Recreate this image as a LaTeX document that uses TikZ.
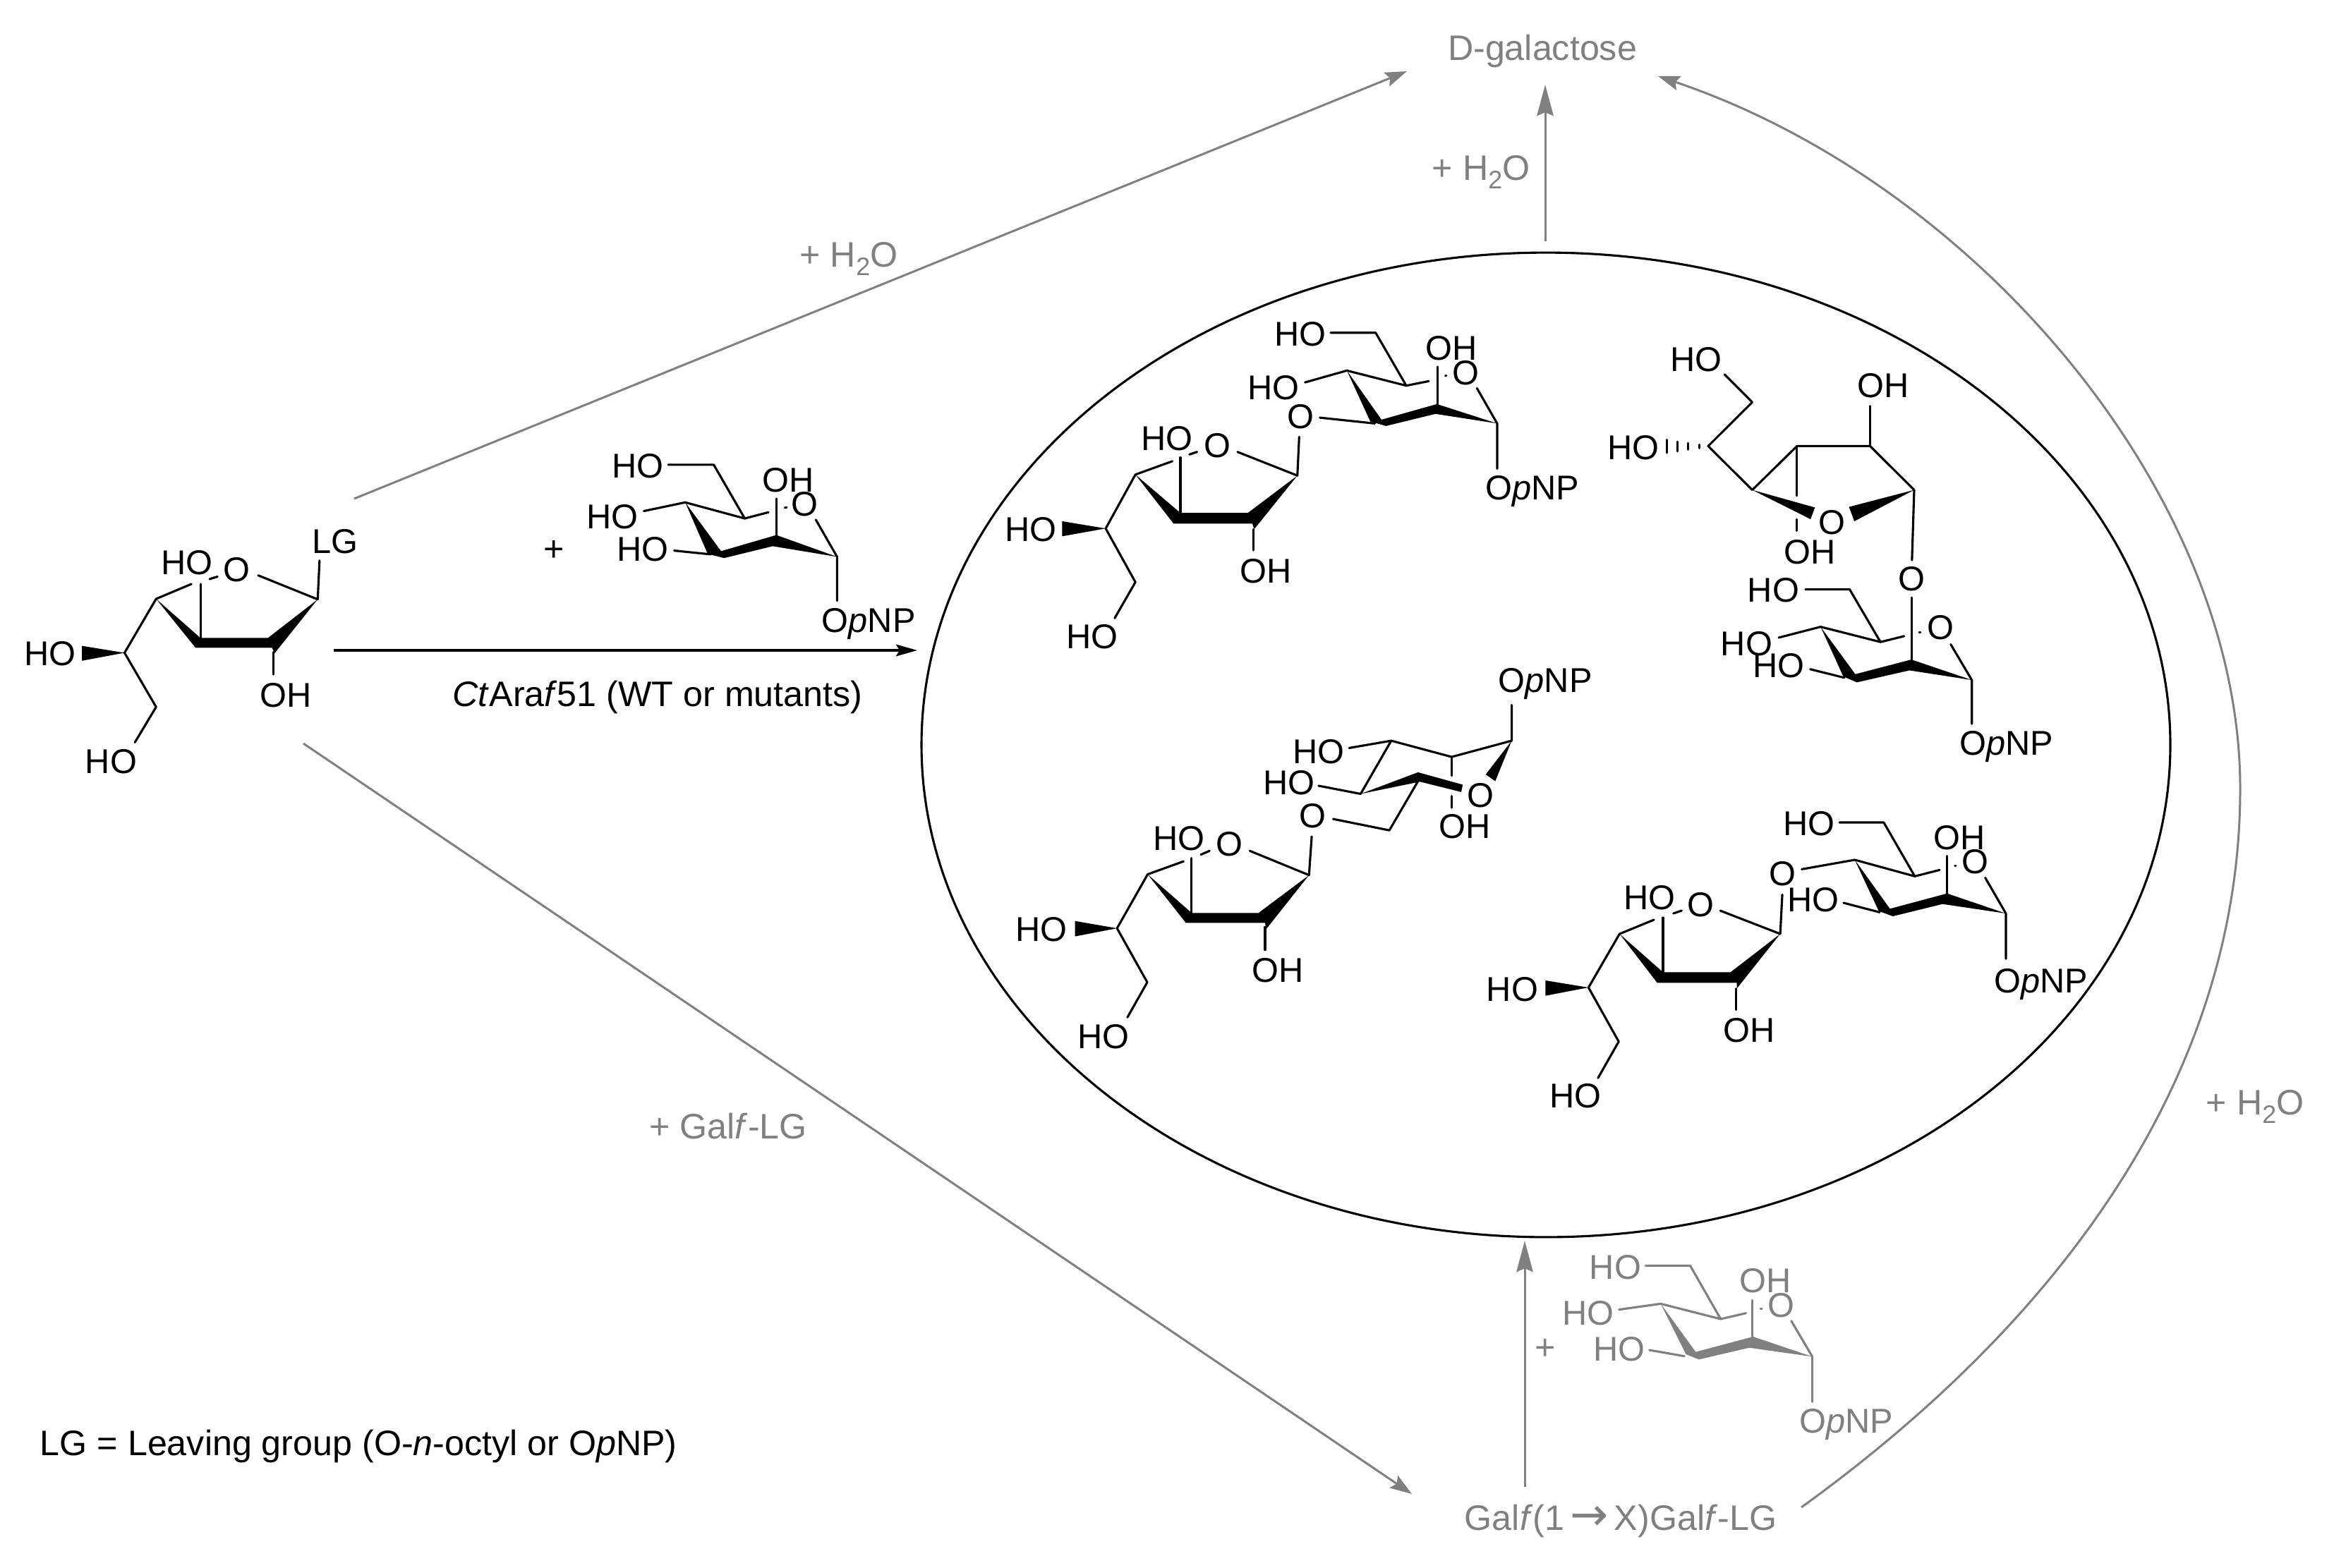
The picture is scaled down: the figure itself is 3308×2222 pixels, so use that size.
\documentclass[tikz,border=0pt]{standalone}
\usepackage{fontspec}
\setmainfont{Liberation Sans}
\newfontfamily\arrowfont{DejaVu Sans}
\usetikzlibrary{arrows.meta,shapes.geometric}
\definecolor{greyc}{HTML}{808080}
\newcommand{\HtwoO}{+ H\raisebox{-0.24em}{\fontsize{8.6}{9}\selectfont 2}O}
\newcommand{\lb}[3]{\node[lab] (#1) at (#2) {#3};}
\tikzset{
  lab/.style={inner sep=0pt,outer sep=0pt,anchor=center,text height=8.4pt,text depth=0pt,font=\fontsize{11.7}{13}\selectfont},
  schemetext/.style={lab,text height=8.6pt,font=\fontsize{12.05}{14}\selectfont},
  bond/.style={line width=0.75pt,line join=round,line cap=round},
  greyarrow/.style={draw=greyc,line width=0.72pt,-{Stealth[length=7.4pt,width=5pt,inset=1.2pt]}},
  greybig/.style={draw=greyc,line width=0.72pt,-{Stealth[length=10.6pt,width=5.6pt,inset=1.2pt]}},
  blackarrow/.style={draw=black,line width=0.75pt,-{Stealth[length=7.2pt,width=4pt,inset=1.2pt]}},
  greytext/.style={schemetext,text=greyc},
}
\begin{document}
\begin{tikzpicture}[x=0.24pt,y=-0.24pt]
\useasboundingbox (0,0) rectangle (3308,2222);

% vesicle
\node[ellipse,draw=black,line width=0.75pt,inner sep=0pt,minimum width=424.8pt,minimum height=335pt] (pool) at (2191,1056) {};

% free ends of the connectors
\coordinate (donorUp) at (502,707);
\coordinate (donorRight) at (473,922);
\coordinate (donorDown) at (430,1054);
\coordinate (poolIn) at (1300,922);
\coordinate (galIn1) at (1994,101);
\coordinate (galIn2) at (2190,120);
\coordinate (galIn3) at (2350,108);
\coordinate (poolOut) at (2190,342);
\coordinate (dimerIn) at (2001,2118);
\coordinate (dimerUp) at (2161,2108);
\coordinate (poolIn2) at (2161,1759);
\coordinate (dimerOut) at (2553,2137);
\coordinate (archA) at (2950,1850);
\coordinate (archB) at (3175,1500);
\coordinate (archC) at (3175,1118);
\coordinate (archD) at (3175,700);
\coordinate (archE) at (2800,260);

% connectors
\draw[greyarrow] (donorUp) -- (galIn1);
\draw[greybig] (poolOut) -- (galIn2);
\draw[greyarrow] (donorDown) -- (dimerIn);
\draw[greybig] (dimerUp) -- (poolIn2);
\draw[greyarrow] (dimerOut) .. controls (archA) and (archB) .. (archC) .. controls (archD) and (archE) .. (galIn3);
\draw[blackarrow] (donorRight) -- (poolIn);

% texts of the scheme
\node[greytext] (galactose) at (2186,68) {D-galactose};
\node[greytext] (waterA) at (1203,361) {\HtwoO};
\node[greytext] (waterB) at (2099,238) {\HtwoO};
\node[greytext] (waterC) at (3196,1563) {\HtwoO};
\node[greytext] (galfLG) at (1032,1597) {+ Gal\textit{f}-LG};
\node[greytext] (dimer) at (2297,2152) {Gal\textit{f}(1\,{\arrowfont\fontsize{15.5}{15}\selectfont →}\,X)Gal\textit{f}-LG};
\node[greytext] (plusG) at (2190,1910) {+};
\node[schemetext] (enzyme) at (932,984) {\textit{Ct}Ara\textit{f}51 (WT or mutants)};
\node[schemetext,anchor=west] (legend) at (57,2046) {LG = Leaving group (O-\textit{n}-octyl or O\textit{p}NP)};

% donor and acceptor on the left
\begin{scope}[shift={(0,600)},x=0.20663pt,y=-0.08418pt]
 \lb{aHOa}{308,563}{HO}\lb{aO}{390,590}{O}\lb{aLG}{552,475}{LG}\lb{aOH}{470,1097}{OH}\lb{aHOb}{82,930}{HO}\lb{aHOc}{183,1365}{HO}
 \draw[bond] (315,650)--(257,710)--(205,928)--(257,1147)--(222,1290);
 \draw[bond] (345,630)--(358,620);
 \draw[bond] (330,650)--(330,868);
 \draw[bond] (425,615)--(523,712)--(526,555);
 \draw[bond] (450,925)--(450,1015);
 \fill (257,710)--(330,868)--(441,868)--(523,712)--(452,930)--(448,908)--(322,908)--cycle;
 \fill (205,928)--(135,900)--(135,960)--cycle;
 % acceptor
 \node[schemetext] (bPlus) at (912,505) {+};
 \lb{bHOa}{1050,170}{HO}\lb{bHOb}{1008,375}{HO}\lb{bHOc}{1058,507}{HO}\lb{bOH}{1298,228}{OH}\lb{bO}{1325,325}{O}\lb{bNP}{1430,795}{O\textit{p}NP}
 \draw[bond] (1100,168)--(1175,168)--(1226,385)--(1128,320)--(1060,355);
 \draw[bond] (1226,385)--(1265,360);
 \draw[bond] (1292,342)--(1295,340);
 \draw[bond] (1278,305)--(1278,455);
 \draw[bond] (1343,390)--(1378,540)--(1378,718);
 \draw[bond] (1110,515)--(1170,530);
 \fill (1128,320)--(1187,517)--(1278,452)--(1378,540)--(1272,497)--(1192,545)--(1165,528)--cycle;
\end{scope}

% top left disaccharide
\begin{scope}[shift={(1400,420)},x=0.15306pt,y=-0.08571pt]
 \lb{cHOa}{398,563}{HO}\lb{cO}{510,590}{O}\lb{cGly}{695,475}{O}\lb{cOH}{618,1088}{OH}\lb{cHOb}{95,925}{HO}\lb{cHOc}{232,1350}{HO}
 \draw[bond] (410,655)--(328,708)--(262,922)--(328,1135)--(282,1278);
 \draw[bond] (448,628)--(465,618);
 \draw[bond] (428,640)--(428,860);
 \draw[bond] (555,618)--(688,712)--(692,558);
 \draw[bond] (738,482)--(860,505);
 \draw[bond] (590,925)--(590,1008);
 \fill (328,708)--(428,860)--(578,860)--(688,712)--(592,925)--(588,903)--(413,903)--cycle;
 \fill (262,922)--(165,893)--(165,953)--cycle;
 \lb{cHOd}{695,148}{HO}\lb{cHOe}{635,362}{HO}\lb{cOHb}{1030,205}{OH}\lb{cOb}{1063,302}{O}\lb{cNP}{1210,760}{O\textit{p}NP}
 \draw[bond] (762,145)--(862,145)--(930,355)--(798,295)--(705,342);
 \draw[bond] (930,355)--(980,337);
 \draw[bond] (1017,316)--(1019,315);
 \draw[bond] (1000,280)--(1000,430);
 \draw[bond] (1087,365)--(1132,505)--(1132,685);
 \fill (798,295)--(875,490)--(998,428)--(1132,505)--(995,467)--(885,515)--(850,497)--cycle;
\end{scope}

% top right disaccharide
\begin{scope}[shift={(2250,450)},x=0.10714pt,y=-0.0995pt]
 \lb{dHOa}{345,143}{HO}\lb{dHOb}{145,443}{HO}\lb{dOH}{938,232}{OH}\lb{dOHb}{705,800}{OH}\lb{dO}{775,700}{O}\lb{dGly}{1030,893}{O}
 \draw[bond] (435,195)--(523,290)--(383,440)--(523,590)--(665,440)--(897,440)--(1037,590)--(1030,830);
 \draw[bond] (897,440)--(897,303);
 \draw[bond] (665,440)--(665,610);
 \draw[bond] (665,690)--(665,730);
 \draw[bond] (1030,958)--(1030,1170);
 \draw[bond] (355,435)--(355,447);
 \draw[bond] (320,430)--(320,452);
 \draw[bond] (285,425)--(285,458);
 \draw[bond] (252,418)--(252,463);
 \fill (523,590)--(722,650)--(708,690)--cycle;
 \fill (1037,590)--(830,648)--(847,697)--cycle;
 \lb{dHOc}{590,930}{HO}\lb{dHOd}{505,1115}{HO}\lb{dHOe}{607,1190}{HO}\lb{dOc}{1120,1060}{O}\lb{dNP}{1330,1455}{O\textit{p}NP}
 \draw[bond] (692,930)--(832,930)--(930,1110)--(740,1058)--(607,1095);
 \draw[bond] (930,1110)--(1005,1090);
 \draw[bond] (1053,1077)--(1057,1077);
 \draw[bond] (1153,1118)--(1220,1240)--(1220,1390);
 \draw[bond] (707,1203)--(815,1232);
 \fill (740,1058)--(850,1220)--(1028,1170)--(1220,1240)--(1022,1207)--(855,1248)--(812,1228)--cycle;
\end{scope}

% central disaccharide
\begin{scope}[shift={(1400,920)},x=0.13008pt,y=-0.09185pt]
 \lb{eHOa}{500,700}{HO}\lb{eO}{632,722}{O}\lb{eGly}{850,617}{O}\lb{eOH}{758,1190}{OH}\lb{eHOb}{140,1037}{HO}\lb{eHOc}{302,1435}{HO}
 \draw[bond] (512,787)--(418,835)--(338,1035)--(417,1235)--(365,1365);
 \draw[bond] (557,762)--(580,748);
 \draw[bond] (533,775)--(533,978);
 \draw[bond] (685,748)--(840,838)--(847,695);
 \draw[bond] (903,630)--(1050,672)--(1125,490);
 \draw[bond] (725,1030)--(725,1115);
 \fill (418,835)--(533,978)--(708,978)--(840,838)--(728,1038)--(725,1015)--(518,1015)--cycle;
 \fill (338,1035)--(228,1008)--(228,1065)--cycle;
 \lb{eHOd}{865,380}{HO}\lb{eHOe}{787,495}{HO}\lb{eNP}{1458,115}{O\textit{p}NP}\lb{eOb}{1288,540}{O}\lb{eOHb}{1247,655}{OH}
 \draw[bond] (945,367)--(1055,340)--(975,537)--(865,507);
 \draw[bond] (1055,340)--(1213,400)--(1370,340)--(1370,208);
 \draw[bond] (1213,400)--(1213,470);
 \draw[bond] (1213,545)--(1213,588);
 \fill (975,537)--(1125,457)--(1242,503)--(1238,530)--(1130,492)--cycle;
 \fill (1370,340)--(1302,465)--(1327,490)--cycle;
\end{scope}

% lower right disaccharide
\begin{scope}[shift={(2080,1120)},x=0.14085pt,y=-0.08pt]
 \lb{fHOa}{440,455}{HO}\lb{fO}{563,485}{O}\lb{fGly}{760,353}{O}\lb{fOH}{680,1020}{OH}\lb{fHOb}{108,845}{HO}\lb{fHOc}{260,1300}{HO}
 \draw[bond] (450,552)--(367,612)--(292,840)--(365,1070)--(315,1225);
 \draw[bond] (497,525)--(517,513);
 \draw[bond] (472,543)--(472,775);
 \draw[bond] (610,513)--(755,612)--(760,445);
 \draw[bond] (807,337)--(935,297);
 \draw[bond] (648,845)--(648,935);
 \fill (367,612)--(472,775)--(635,775)--(755,612)--(650,845)--(650,820)--(458,820)--cycle;
 \fill (292,840)--(188,810)--(188,875)--cycle;
 \lb{fHOd}{825,140}{HO}\lb{fHOe}{835,465}{HO}\lb{fOHb}{1188,200}{OH}\lb{fOb}{1225,303}{O}\lb{fNP}{1385,810}{O\textit{p}NP}
 \draw[bond] (898,138)--(1005,138)--(1080,367)--(935,297);
 \draw[bond] (1080,367)--(1140,340);
 \draw[bond] (1177,322)--(1179,322);
 \draw[bond] (1158,280)--(1158,440);
 \draw[bond] (1250,373)--(1300,525)--(1300,718);
 \draw[bond] (908,480)--(995,520);
 \fill (935,297)--(1020,505)--(1158,440)--(1300,525)--(1147,485)--(1027,537)--(993,515)--cycle;
\end{scope}

% grey acceptor
\begin{scope}[shift={(2020,1740)},x=0.11019pt,y=-0.08pt,color=greyc]
 \lb{gHOa}{587,167}{HO}\lb{gHOb}{503,362}{HO}\lb{gHOc}{598,515}{HO}\lb{gOH}{1050,225}{OH}\lb{gO}{1098,330}{O}\lb{gNP}{1300,822}{O\textit{p}NP}
 \draw[bond] (680,163)--(818,163)--(912,390)--(727,325)--(598,350);
 \draw[bond] (912,390)--(990,365);
 \draw[bond] (1035,347)--(1039,347);
 \draw[bond] (1010,310)--(1010,465);
 \draw[bond] (1130,398)--(1195,550)--(1195,742);
 \draw[bond] (692,522)--(800,548);
 \fill (727,325)--(835,530)--(1012,465)--(1195,550)--(1000,512)--(845,562)--(805,540)--cycle;
\end{scope}
\end{tikzpicture}
\end{document}
